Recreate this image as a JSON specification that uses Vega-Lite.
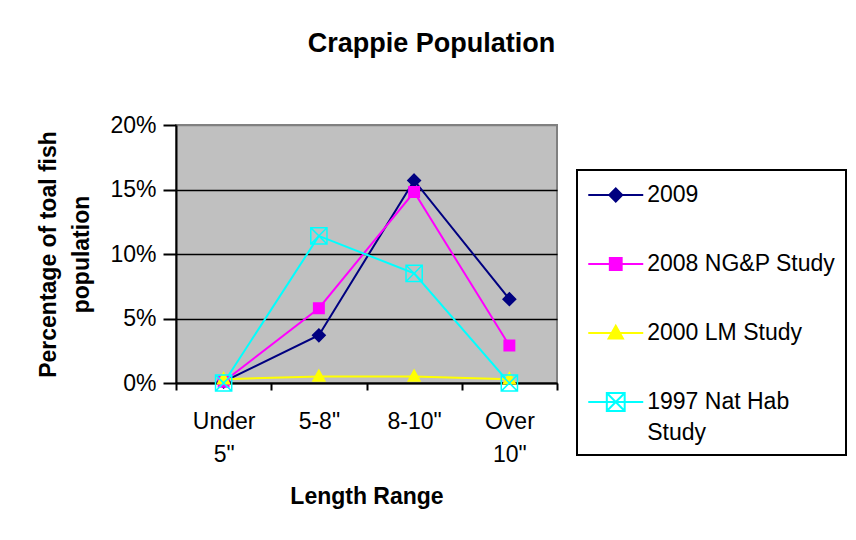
{
  "$schema": "https://vega.github.io/schema/vega-lite/v6.json",
  "width": 381,
  "height": 258,
  "autosize": {"type": "none"},
  "padding": {"left": 176, "top": 125, "right": 299, "bottom": 157},
  "background": "white",
  "title": {"text": "Crappie Population", "fontSize": 27, "font": "Liberation Sans", "fontWeight": "bold", "anchor": "middle", "dx": 65, "offset": 56, "color": "black"},
  "data": {"values": [
    {"range": "Under 5\"", "series": "2009", "pct": 0.001},
    {"range": "5-8\"", "series": "2009", "pct": 0.037},
    {"range": "8-10\"", "series": "2009", "pct": 0.157},
    {"range": "Over 10\"", "series": "2009", "pct": 0.065},
    {"range": "Under 5\"", "series": "2008 NG&P Study", "pct": 0.001},
    {"range": "5-8\"", "series": "2008 NG&P Study", "pct": 0.058},
    {"range": "8-10\"", "series": "2008 NG&P Study", "pct": 0.148},
    {"range": "Over 10\"", "series": "2008 NG&P Study", "pct": 0.029},
    {"range": "Under 5\"", "series": "2000 LM Study", "pct": 0.003},
    {"range": "5-8\"", "series": "2000 LM Study", "pct": 0.005},
    {"range": "8-10\"", "series": "2000 LM Study", "pct": 0.005},
    {"range": "Over 10\"", "series": "2000 LM Study", "pct": 0.003},
    {"range": "Under 5\"", "series": "1997 Nat Hab Study", "pct": 0.0},
    {"range": "5-8\"", "series": "1997 Nat Hab Study", "pct": 0.114},
    {"range": "8-10\"", "series": "1997 Nat Hab Study", "pct": 0.085},
    {"range": "Over 10\"", "series": "1997 Nat Hab Study", "pct": 0.0}
  ]},
  "encoding": {
    "x": {
      "field": "range", "type": "nominal",
      "sort": ["Under 5\"", "5-8\"", "8-10\"", "Over 10\""],
      "scale": {"type": "band", "paddingInner": 0, "paddingOuter": 0},
      "axis": {
        "title": "Length Range",
        "titleFont": "Liberation Sans", "titleFontSize": 23, "titleFontWeight": "bold", "titleColor": "black",
        "titleY": 120, "titleBaseline": "alphabetic",
        "labelFont": "Liberation Sans", "labelFontSize": 23, "labelColor": "black",
        "labelExpr": "split(datum.label, ' ')", "labelLineHeight": 33, "labelPadding": 20, "labelAngle": 0,
        "tickBand": "extent", "tickSize": 7, "tickColor": "black", "tickWidth": 2,
        "domainColor": "black", "domainWidth": 2, "grid": false
      }
    },
    "y": {
      "field": "pct", "type": "quantitative",
      "scale": {"domain": [0, 0.2], "nice": false},
      "axis": {
        "values": [0, 0.05, 0.1, 0.15, 0.2], "format": ".0%",
        "title": ["Percentage of toal fish", "population"],
        "titleFont": "Liberation Sans", "titleFontSize": 23, "titleFontWeight": "bold", "titleColor": "black",
        "titleX": -139, "titleBaseline": "top", "titleLineHeight": 33,
        "labelFont": "Liberation Sans", "labelFontSize": 23, "labelColor": "black", "labelPadding": 7,
        "tickSize": 13, "tickColor": "black", "tickWidth": 2,
        "domainColor": "black", "domainWidth": 2,
        "grid": true, "gridWidth": 1.5,
        "gridColor": {"condition": {"test": "datum.value >= 0.2", "value": "#808080"}, "value": "black"}
      }
    }
  },
  "layer": [
    {
      "mark": {"type": "line", "strokeWidth": 2},
      "encoding": {
        "color": {"field": "series", "type": "nominal",
          "scale": {"domain": ["2009", "2008 NG&P Study", "2000 LM Study", "1997 Nat Hab Study"], "range": ["#000080", "#FF00FF", "#FFFF00", "#00FFFF"]},
          "legend": null}
      }
    },
    {
      "mark": {"type": "point", "size": 324, "opacity": 1, "strokeWidth": 1.5},
      "encoding": {
        "fill": {"field": "series", "type": "nominal",
          "scale": {"domain": ["2009", "2008 NG&P Study", "2000 LM Study", "1997 Nat Hab Study"], "range": ["#000080", "#FF00FF", "#FFFF00", "transparent"]},
          "legend": null},
        "stroke": {"field": "series", "type": "nominal",
          "scale": {"domain": ["2009", "2008 NG&P Study", "2000 LM Study", "1997 Nat Hab Study"], "range": ["#000080", "#FF00FF", "#FFFF00", "#00FFFF"]},
          "legend": null},
        "shape": {"field": "series", "type": "nominal",
          "scale": {"domain": ["2009", "2008 NG&P Study", "2000 LM Study", "1997 Nat Hab Study"],
            "range": ["M0,-0.7L0.7,0L0,0.7L-0.7,0Z", "M-0.58,-0.58H0.58V0.58H-0.58Z", "M0,-0.72L0.66,0.5H-0.66Z", "M-0.9,-0.9H0.9V0.9H-0.9ZM-0.9,-0.9L0.9,0.9M0.9,-0.9L-0.9,0.9"]},
          "legend": null}
      }
    },
    {
      "transform": [{"filter": "false"}],
      "mark": {"type": "point", "size": 756, "opacity": 1, "strokeWidth": 2},
      "encoding": {
        "fill": {"field": "series", "type": "nominal",
          "scale": {"domain": ["2009", "2008 NG&P Study", "2000 LM Study", "1997 Nat Hab Study"], "range": ["#000080", "#FF00FF", "#FFFF00", "transparent"]},
          "legend": {"title": null, "orient": "none", "legendX": 401, "legendY": 45,
            "labelExpr": "datum.value == '1997 Nat Hab Study' ? ['1997 Nat Hab', 'Study'] : datum.label",
            "encode": {"labels": {"update": {"lineHeight": {"value": 31}}}, "legend": {"update": {"strokeWidth": {"value": 2}}}}}},
        "stroke": {"field": "series", "type": "nominal",
          "scale": {"domain": ["2009", "2008 NG&P Study", "2000 LM Study", "1997 Nat Hab Study"], "range": ["#000080", "#FF00FF", "#FFFF00", "#00FFFF"]},
          "legend": {"title": null, "orient": "none", "legendX": 401, "legendY": 45,
            "labelExpr": "datum.value == '1997 Nat Hab Study' ? ['1997 Nat Hab', 'Study'] : datum.label",
            "encode": {"labels": {"update": {"lineHeight": {"value": 31}}}, "legend": {"update": {"strokeWidth": {"value": 2}}}}}},
        "shape": {"field": "series", "type": "nominal",
          "scale": {"domain": ["2009", "2008 NG&P Study", "2000 LM Study", "1997 Nat Hab Study"],
            "range": ["M-2,0H2M0,-0.47L0.47,0L0,0.47L-0.47,0Z", "M-2,0H2M-0.43,-0.43H0.43V0.43H-0.43Z", "M-2,0H2M0,-0.52L0.52,0.4H-0.52Z", "M-2,0H2M-0.65,-0.65H0.65V0.65H-0.65ZM-0.65,-0.65L0.65,0.65M0.65,-0.65L-0.65,0.65"]},
          "legend": {"title": null, "orient": "none", "legendX": 401, "legendY": 45,
            "labelExpr": "datum.value == '1997 Nat Hab Study' ? ['1997 Nat Hab', 'Study'] : datum.label",
            "encode": {"labels": {"update": {"lineHeight": {"value": 31}}}, "legend": {"update": {"strokeWidth": {"value": 2}}}}}}
      }
    }
  ],
  "resolve": {
    "scale": {"fill": "independent", "stroke": "independent", "shape": "independent"},
    "legend": {"fill": "independent", "stroke": "independent", "shape": "independent"}
  },
  "config": {
    "view": {"fill": "#C0C0C0", "stroke": "#808080", "strokeWidth": 2},
    "legend": {
      "labelFont": "Liberation Sans", "labelFontSize": 23, "labelColor": "black", "labelLimit": 400,
      "labelOffset": 16.5, "symbolOffset": 13.75, "strokeColor": "black", "fillColor": "white", "padding": 10,
      "symbolSize": 756, "symbolStrokeWidth": 2, "symbolOpacity": 1, "rowPadding": 42
    }
  }
}
